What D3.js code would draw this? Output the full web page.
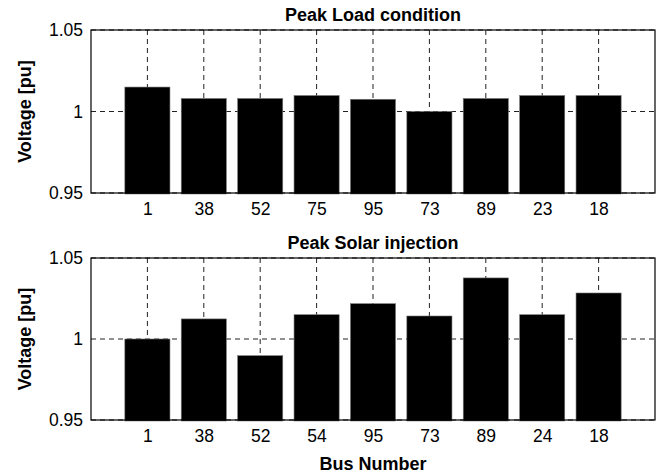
<!DOCTYPE html>
<html lang="en">
<head>
    <meta charset="UTF-8">
    <title>Bus voltages</title>
    <script src="https://cdn.jsdelivr.net/npm/d3@7"></script>
    <style type="text/css">
        body { margin: 0; background: #fff; }
        .axis text {
            font-family: "Liberation Sans", Arial, sans-serif;
            font-size: 17.5px;
            fill: #000;
        }
        .title, .label {
            font-family: "Liberation Sans", Arial, sans-serif;
            font-weight: bold;
            font-size: 18px;
            fill: #000;
        }
    </style>
</head>
<body>
    <script>
        // bus labels shown under each bar
        const loadBuses = ["1", "38", "52", "75", "95", "73", "89", "23", "18"];
        const solarBuses = ["1", "38", "52", "54", "95", "73", "89", "24", "18"];

        // voltages
        const loadVoltage = [1.015, 1.008, 1.008, 1.0098, 1.0075, 1.000, 1.008, 1.0098, 1.0098];
        const solarVoltage = [1.000, 1.0124, 0.9897, 1.015, 1.0218, 1.0142, 1.0377, 1.015, 1.0284];

        const yTicks = [0.95, 1, 1.05];

        const w = 663, h = 475;
        const left = 91, right = 655;

        const svg = d3.select("body").append("svg")
            .attr("width", w)
            .attr("height", h);

        function drawPanel(top, bottom, title, buses, values) {
            const g = svg.append("g");

            // numeric x so bars sit at 1..9 with limits [0, 10]
            const xScale = d3.scaleLinear().domain([0, buses.length + 1]).range([left, right]);
            const yScale = d3.scaleLinear().domain([0.95, 1.05]).range([bottom, top]);
            const barW = (xScale(1) - xScale(0)) * 0.8;

            // dashed grid
            g.selectAll(".vgrid")
                .data(buses)
                .enter()
                .append("line")
                .attr("x1", (d, i) => xScale(i + 1))
                .attr("x2", (d, i) => xScale(i + 1))
                .attr("y1", top)
                .attr("y2", bottom)
                .attr("stroke", "#222")
                .attr("stroke-width", 1)
                .attr("stroke-dasharray", "5,4");

            g.selectAll(".hgrid")
                .data(yTicks)
                .enter()
                .append("line")
                .attr("x1", left)
                .attr("x2", right)
                .attr("y1", d => yScale(d))
                .attr("y2", d => yScale(d))
                .attr("stroke", "#222")
                .attr("stroke-width", 1)
                .attr("stroke-dasharray", "5,4");

            // bars
            g.selectAll("rect.bar")
                .data(values)
                .enter()
                .append("rect")
                .attr("class", "bar")
                .attr("x", (d, i) => xScale(i + 1) - barW / 2)
                .attr("y", d => yScale(d))
                .attr("width", barW)
                .attr("height", d => bottom + 1 - yScale(d))
                .attr("fill", "#000")
                .attr("stroke", "#777")
                .attr("stroke-width", 0.6);

            // frame
            g.append("rect")
                .attr("x", left)
                .attr("y", top)
                .attr("width", right - left)
                .attr("height", bottom - top)
                .attr("fill", "none")
                .attr("stroke", "#000")
                .attr("stroke-width", 1.2);

            // axes (ticks hidden, only labels)
            const yAxis = d3.axisLeft(yScale).tickValues(yTicks).tickSize(0).tickPadding(8)
                .tickFormat(d => d === 1 ? "1" : d3.format(".2f")(d));
            g.append("g")
                .attr("class", "axis")
                .attr("transform", "translate(" + left + ",0)")
                .call(yAxis)
                .call(s => s.select(".domain").remove());

            const xAxis = d3.axisBottom(xScale).tickValues(d3.range(1, buses.length + 1))
                .tickSize(0).tickPadding(10)
                .tickFormat(d => buses[d - 1]);
            g.append("g")
                .attr("class", "axis")
                .attr("transform", "translate(0," + bottom + ")")
                .call(xAxis)
                .call(s => s.select(".domain").remove());

            g.append("text")
                .attr("class", "title")
                .attr("x", (left + right) / 2)
                .attr("y", top - 9)
                .attr("text-anchor", "middle")
                .text(title);

            g.append("text")
                .attr("class", "label")
                .attr("transform", "translate(31," + ((top + bottom) / 2) + ") rotate(-90)")
                .attr("text-anchor", "middle")
                .text("Voltage [pu]");
        }

        drawPanel(30, 193, "Peak Load condition", loadBuses, loadVoltage);
        drawPanel(258, 420, "Peak Solar injection", solarBuses, solarVoltage);

        svg.append("text")
            .attr("class", "label")
            .attr("x", (left + right) / 2)
            .attr("y", 470)
            .attr("text-anchor", "middle")
            .text("Bus Number");
    </script>
</body>
</html>
